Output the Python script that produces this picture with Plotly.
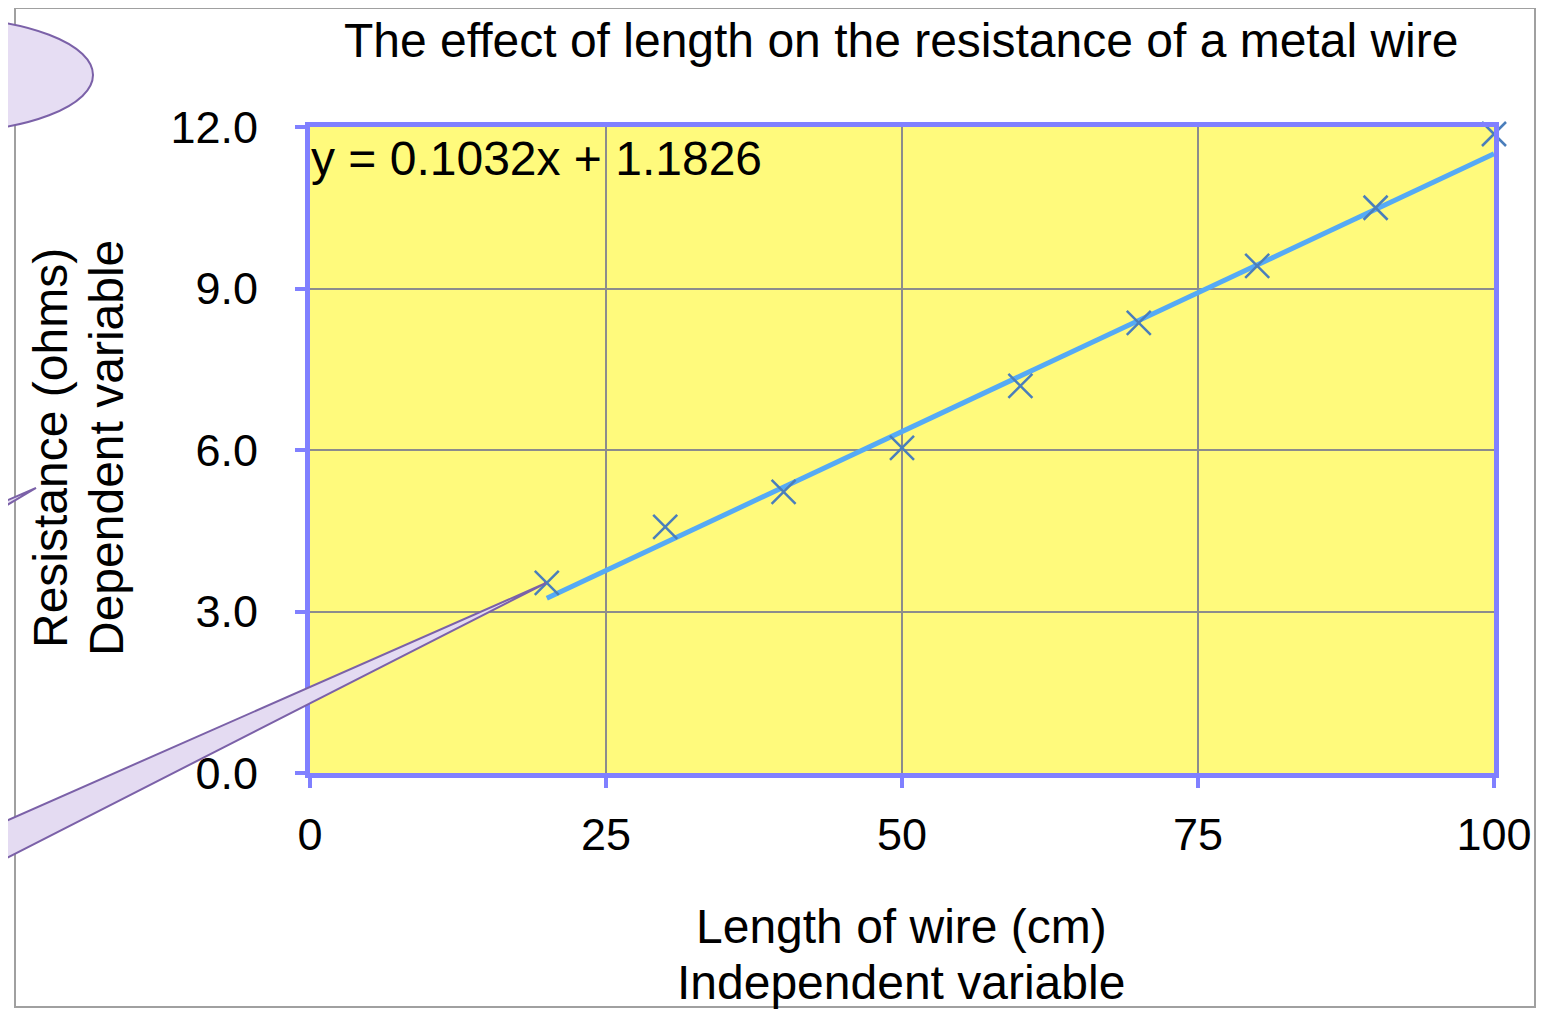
import plotly.graph_objects as go

# ---- data ----
lengths_cm = [20, 30, 40, 50, 60, 70, 80, 90, 100]
resistance_ohms = [3.53, 4.57, 5.22, 6.04, 7.19, 8.36, 9.42, 10.50, 11.87]
trend_slope = 0.1032
trend_intercept = 1.1826
trend_x = [20, 100]
x_ticks = [0, 25, 50, 75, 100]
y_ticks = [0, 3, 6, 9, 12]
y_tick_labels = ["0.0", "3.0", "6.0", "9.0", "12.0"]

trend_y = [trend_slope * x + trend_intercept for x in trend_x]

FONT = "Liberation Sans, Arial, Helvetica, sans-serif"
AXIS_BLUE = "#8080ff"

# page has an 8px body margin -> shrink the figure accordingly
OFF = 8
W, H = 1562 - OFF, 1009 - OFF
# plot area in reference-image pixels
L, R, T, B = 310, 1494, 127, 773
def px(xp):
    return (xp - L) / (R - L)
def py(yp):
    return (B - yp) / (B - T)

fig = go.Figure()

fig.add_trace(go.Scatter(
    x=trend_x, y=trend_y, mode="lines",
    line=dict(color="#55aaf5", width=5),
    hoverinfo="skip", showlegend=False,
))
fig.add_trace(go.Scatter(
    x=lengths_cm, y=resistance_ohms, mode="markers",
    marker=dict(symbol="x-thin-open", size=24, color="#4a7ebb",
                line=dict(color="#4a7ebb", width=2.5)),
    cliponaxis=False, showlegend=False,
))

shapes = []
# outer frame
shapes.append(dict(type="rect", xref="paper", yref="paper",
                   x0=px(15), x1=px(1535), y0=py(1007), y1=py(8),
                   line=dict(color="#a0a0a0", width=2), layer="below"))
# ellipse callout (top-left)
shapes.append(dict(type="circle", xref="paper", yref="paper",
                   x0=px(-207), x1=px(93), y0=py(132), y1=py(18),
                   fillcolor="#e6ddf3", line=dict(color="#7b61a8", width=2),
                   layer="above"))
def path(points):
    return "M " + " L ".join(f"{px(a):.5f},{py(b):.5f}" for a, b in points) + " Z"
# big wedge pointer
shapes.append(dict(type="path", xref="paper", yref="paper",
                   path=path([(-60, 850), (546, 583), (-60, 892)]),
                   fillcolor="#e4dbf2", line=dict(color="#7b61a8", width=2),
                   layer="above"))
# small wedge near y title
shapes.append(dict(type="path", xref="paper", yref="paper",
                   path=path([(-20, 512), (36, 488), (-20, 521)]),
                   fillcolor="#e4dbf2", line=dict(color="#7b61a8", width=2),
                   layer="above"))

def ann(text, x, y, angle=0, anchor="center", size=48):
    return dict(text=text, xref="paper", yref="paper", x=px(x), y=py(y),
                xanchor=anchor, yanchor="middle", showarrow=False,
                textangle=angle,
                font=dict(family=FONT, size=size, color="black"))

annotations = [
    ann("The effect of length on the resistance of a metal wire", 901, 40),
    ann(f"y = {trend_slope}x + {trend_intercept}", 309, 158, anchor="left"),
    ann("Length of wire (cm)", 901, 926),
    ann("Independent variable", 901, 982),
    ann("Resistance (ohms)", 50, 448, angle=-90),
    ann("Dependent variable", 106, 448, angle=-90),
]

fig.update_layout(
    width=W, height=H,
    margin=dict(l=L - OFF, r=W - (R - OFF), t=T - OFF, b=H - (B - OFF)),
    paper_bgcolor="white", plot_bgcolor="#fffa7c",
    font=dict(family=FONT, size=45, color="black"),
    shapes=shapes, annotations=annotations,
    showlegend=False,
)
fig.update_xaxes(
    range=[0, 100], tickvals=x_ticks, ticktext=[str(v) for v in x_ticks],
    showgrid=True, gridcolor="#8c8c8c", gridwidth=2,
    showline=True, linecolor=AXIS_BLUE, linewidth=5, mirror=True,
    ticks="outside", ticklen=10, tickwidth=4, tickcolor=AXIS_BLUE,
    ticklabelstandoff=8, zeroline=False,
    tickfont=dict(family=FONT, size=45, color="black"),
)
fig.update_yaxes(
    range=[0, 12], tickvals=y_ticks, ticktext=y_tick_labels,
    showgrid=True, gridcolor="#8c8c8c", gridwidth=2,
    showline=True, linecolor=AXIS_BLUE, linewidth=5, mirror=True,
    ticks="outside", ticklen=10, tickwidth=4, tickcolor=AXIS_BLUE,
    ticklabelstandoff=28, zeroline=False,
    tickfont=dict(family=FONT, size=45, color="black"),
)

fig.write_html("out.html")
